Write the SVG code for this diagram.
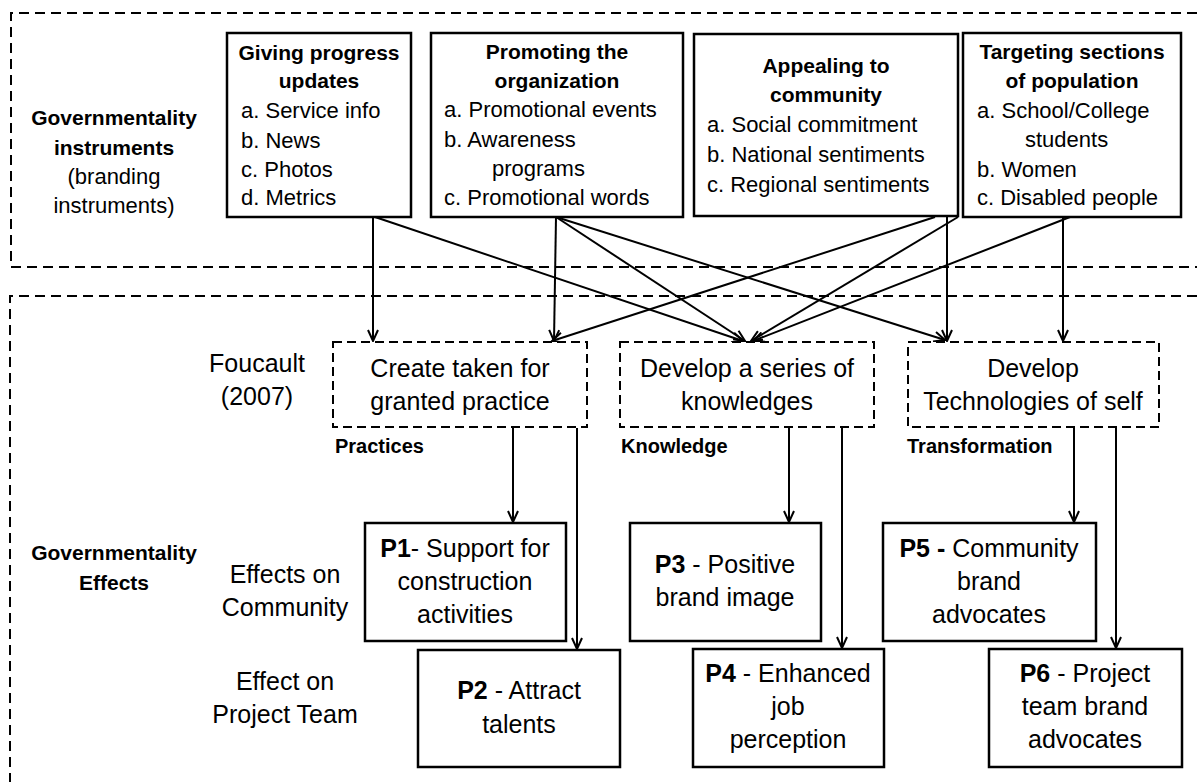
<svg xmlns="http://www.w3.org/2000/svg" width="1197" height="782" viewBox="0 0 1197 782">
<defs>
<marker id="ah" markerUnits="userSpaceOnUse" markerWidth="14" markerHeight="12" refX="12" refY="6" orient="auto">
<path d="M1,1 L12,6 L1,11" fill="none" stroke="#000" stroke-width="2"/>
</marker>
</defs>
<style>
text{font-family:"Liberation Sans",Arial,sans-serif;fill:#000}
.sb{font-size:21px;font-weight:bold}
.si{font-size:22px}
.lt{font-size:25px}
.lb{font-size:20px;font-weight:bold}
.c{text-anchor:middle}
.box{fill:#fff;stroke:#000;stroke-width:2.5}
.dbox{fill:#fff;stroke:#000;stroke-width:2;stroke-dasharray:9 5}
.outer{fill:none;stroke:#000;stroke-width:2;stroke-dasharray:10 6}
.con line{stroke:#000;stroke-width:2;marker-end:url(#ah)}
b{font-weight:bold}
</style>
<rect width="1197" height="782" fill="#fff"/>
<g id="regions">
<path class="outer" d="M1197,13 H11 V267 H1197"/>
<path class="outer" d="M1197,296 H10 V782"/>
</g>
<g id="labels">
<text class="sb c" x="114" y="125">Governmentality</text>
<text class="sb c" x="114" y="155">instruments</text>
<text class="si c" x="114" y="184">(branding</text>
<text class="si c" x="114" y="213">instruments)</text>
<text class="lt c" x="257" y="372">Foucault</text>
<text class="lt c" x="257" y="405">(2007)</text>
<text class="lb" x="335" y="453">Practices</text>
<text class="lb" x="621" y="453">Knowledge</text>
<text class="lb" x="907" y="453">Transformation</text>
<text class="sb c" x="114" y="560">Governmentality</text>
<text class="sb c" x="114" y="590">Effects</text>
<text class="lt c" x="285" y="583">Effects on</text>
<text class="lt c" x="285" y="616">Community</text>
<text class="lt c" x="285" y="690">Effect on</text>
<text class="lt c" x="285" y="723">Project Team</text>
</g>
<g id="connectors" class="con">
<line x1="373" y1="217" x2="373" y2="341"/>
<line x1="375" y1="217" x2="743" y2="341"/>
<line x1="556" y1="217" x2="554" y2="341"/>
<line x1="556" y1="217" x2="745" y2="341"/>
<line x1="556" y1="217" x2="945" y2="340"/>
<line x1="935" y1="217" x2="552" y2="341"/>
<line x1="958" y1="217" x2="751" y2="341"/>
<line x1="947" y1="217" x2="947" y2="341"/>
<line x1="1070" y1="217" x2="753" y2="341"/>
<line x1="1063" y1="217" x2="1063" y2="341"/>
<line x1="513" y1="428" x2="513" y2="522"/>
<line x1="577" y1="428" x2="577" y2="649"/>
<line x1="789" y1="428" x2="789" y2="522"/>
<line x1="842" y1="428" x2="842" y2="648"/>
<line x1="1074" y1="428" x2="1074" y2="522"/>
<line x1="1116" y1="428" x2="1116" y2="648"/>
</g>
<g id="n-updates">
<rect class="box" x="227" y="33" width="184" height="184"/>
<text class="sb c" x="319" y="60">Giving progress</text>
<text class="sb c" x="319" y="88">updates</text>
<text class="si" x="241" y="118">a. Service info</text>
<text class="si" x="241" y="148">b. News</text>
<text class="si" x="241" y="177">c. Photos</text>
<text class="si" x="241" y="205">d. Metrics</text>
</g>
<g id="n-promoting">
<rect class="box" x="431" y="33" width="252" height="184"/>
<text class="sb c" x="557" y="59">Promoting the</text>
<text class="sb c" x="557" y="88">organization</text>
<text class="si" x="444" y="117">a. Promotional events</text>
<text class="si" x="444" y="147">b. Awareness</text>
<text class="si" x="492" y="176">programs</text>
<text class="si" x="444" y="205">c. Promotional words</text>
</g>
<g id="n-appealing">
<rect class="box" x="694" y="34" width="264" height="182"/>
<text class="sb c" x="826" y="73">Appealing to</text>
<text class="sb c" x="826" y="102">community</text>
<text class="si" x="707" y="132">a. Social commitment</text>
<text class="si" x="707" y="162">b. National sentiments</text>
<text class="si" x="707" y="192">c. Regional sentiments</text>
</g>
<g id="n-targeting">
<rect class="box" x="963" y="33" width="218" height="184"/>
<text class="sb c" x="1072" y="59">Targeting sections</text>
<text class="sb c" x="1072" y="88">of population</text>
<text class="si" x="977" y="118">a. School/College</text>
<text class="si" x="1025" y="147">students</text>
<text class="si" x="977" y="177">b. Women</text>
<text class="si" x="977" y="205">c. Disabled people</text>
</g>
<g id="n-practice">
<rect class="dbox" x="333" y="342" width="254" height="85"/>
<text class="lt c" x="460" y="377">Create taken for</text>
<text class="lt c" x="460" y="410">granted practice</text>
</g>
<g id="n-knowledges">
<rect class="dbox" x="620" y="342" width="254" height="85"/>
<text class="lt c" x="747" y="377">Develop a series of</text>
<text class="lt c" x="747" y="410">knowledges</text>
</g>
<g id="n-technologies">
<rect class="dbox" x="908" y="342" width="251" height="85"/>
<text class="lt c" x="1033" y="377">Develop</text>
<text class="lt c" x="1033" y="410">Technologies of self</text>
</g>
<g id="n-p1">
<rect class="box" x="365" y="523" width="201" height="118"/>
<text class="lt c" x="465" y="557"><tspan font-weight="bold">P1</tspan>- Support for</text>
<text class="lt c" x="465" y="590">construction</text>
<text class="lt c" x="465" y="623">activities</text>
</g>
<g id="n-p2">
<rect class="box" x="418" y="650" width="202" height="117"/>
<text class="lt c" x="519" y="699"><tspan font-weight="bold">P2</tspan> - Attract</text>
<text class="lt c" x="519" y="733">talents</text>
</g>
<g id="n-p3">
<rect class="box" x="630" y="523" width="191" height="118"/>
<text class="lt c" x="725" y="573"><tspan font-weight="bold">P3</tspan> - Positive</text>
<text class="lt c" x="725" y="606">brand image</text>
</g>
<g id="n-p4">
<rect class="box" x="693" y="649" width="191" height="118"/>
<text class="lt c" x="788" y="682"><tspan font-weight="bold">P4</tspan> - Enhanced</text>
<text class="lt c" x="788" y="715">job</text>
<text class="lt c" x="788" y="748">perception</text>
</g>
<g id="n-p5">
<rect class="box" x="883" y="523" width="213" height="118"/>
<text class="lt c" x="989" y="557"><tspan font-weight="bold">P5 -</tspan> Community</text>
<text class="lt c" x="989" y="590">brand</text>
<text class="lt c" x="989" y="623">advocates</text>
</g>
<g id="n-p6">
<rect class="box" x="989" y="649" width="193" height="118"/>
<text class="lt c" x="1085" y="682"><tspan font-weight="bold">P6</tspan> - Project</text>
<text class="lt c" x="1085" y="715">team brand</text>
<text class="lt c" x="1085" y="748">advocates</text>
</g>
</svg>
